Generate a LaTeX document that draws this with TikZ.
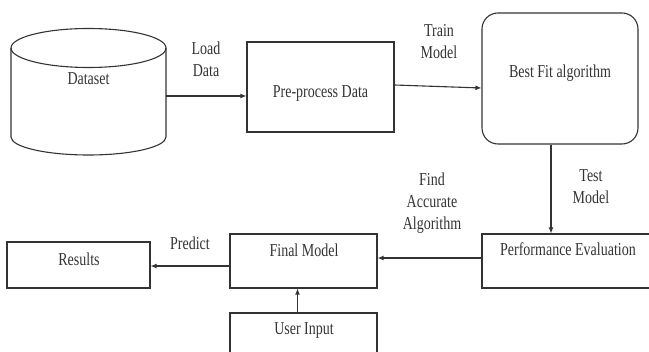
\documentclass[tikz,border=0pt]{standalone}
\usepackage{fontspec}
\setmainfont{Liberation Serif}
\usetikzlibrary{arrows.meta}
\definecolor{ink}{HTML}{333333}
\begin{document}
\begin{tikzpicture}[x=1pt,y=1pt,
  every node/.style={font=\fontsize{14}{17}\selectfont, text=ink},
  box/.style={draw=ink, line width=1.1pt, inner sep=0pt, anchor=center},
  lbl/.style={align=center, inner sep=0pt, transform shape, yscale=1.3},
  conn/.style={draw=ink, line width=1.1pt, -{Latex[length=6pt,width=5pt]}}]
\useasboundingbox (0,0) rectangle (649,-352);
\clip (0,0) rectangle (649,-352);
% cylinder
\draw[draw=ink, line width=1.1pt] (11,-48) -- (11,-137) arc[start angle=180, end angle=360, x radius=77.5, y radius=18] -- (166,-48);
\draw[draw=ink, line width=1.1pt] (88.5,-48) ellipse[x radius=77.5, y radius=19.5];
\node[inner sep=0pt, minimum width=155pt, minimum height=96pt] (dataset) at (88.5,-96) {};
\node[lbl] (datasettxt) at (88.5,-79) {Dataset};
% boxes
\node[box, minimum width=147pt, minimum height=90pt] (pre) at (320.5,-87) {};
\node[lbl] (pretxt) at (320.5,-93) {Pre-process Data};
\node[box, rounded corners=16pt, minimum width=156pt, minimum height=131pt] (best) at (560,-78.5) {};
\node[lbl] (besttxt) at (560,-73) {Best Fit algorithm};
\node[box, minimum width=175pt, minimum height=54pt] (perf) at (569.5,-261) {};
\node[lbl] (perftxt) at (568,-249) {Performance Evaluation};
\node[box, minimum width=147pt, minimum height=54pt] (final) at (303.5,-261) {};
\node[lbl] (finaltxt) at (304,-250) {Final Model};
\node[box, minimum width=143pt, minimum height=46pt] (results) at (78.5,-265) {};
\node[lbl] (resultstxt) at (79,-259) {Results};
\node[box, minimum width=147pt, minimum height=60pt] (user) at (303.5,-343) {};
\node[lbl] (usertxt) at (304,-330) {User Input};
% connectors
\draw[conn] (dataset.east) -- (pre.west |- dataset.east);
\draw[conn] ([yshift=2pt]pre.east) -- ([yshift=-9.5pt]best.west);
\draw[conn] ([xshift=-9pt]best.south) -- ([xshift=-9pt]best.south |- perf.north);
\draw[conn] ([yshift=3pt]perf.west) -- ([yshift=3pt]final.east);
\draw[conn] ([yshift=-5pt]final.west) -- ([yshift=-5pt]final.west -| results.east);
\draw[conn] ([xshift=-6pt]user.north) -- ([xshift=-6pt]final.south);
% labels
\node[lbl] (loadlbl) at (206,-59) {Load\\Data};
\node[lbl] (trainlbl) at (439,-41.5) {Train\\Model};
\node[lbl] (testlbl) at (591,-187) {Test\\Model};
\node[lbl] (findlbl) at (432,-203) {Find\\Accurate\\Algorithm};
\node[lbl] (predictlbl) at (190,-243) {Predict};
\end{tikzpicture}
\end{document}
